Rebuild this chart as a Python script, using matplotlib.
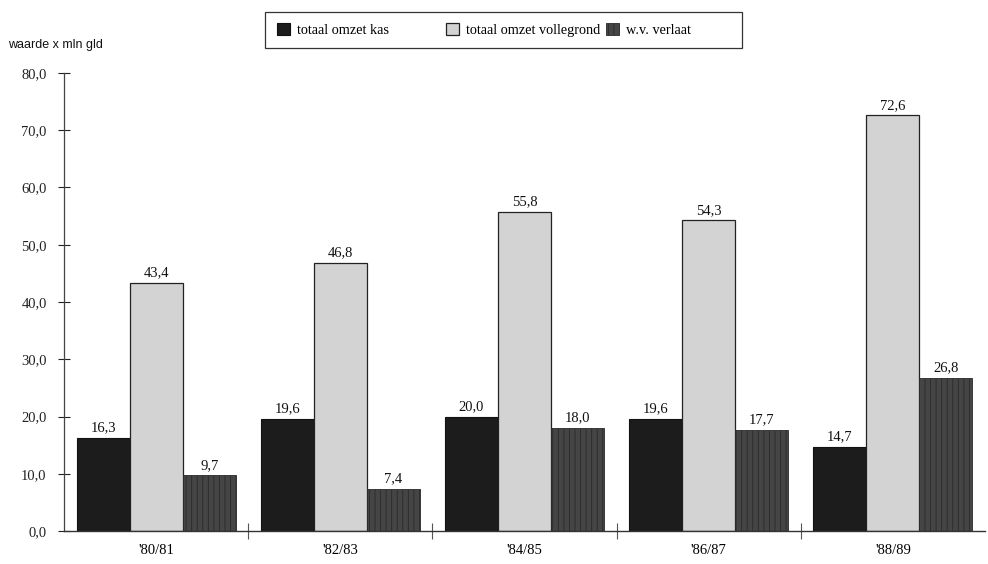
import matplotlib
matplotlib.use("Agg")
import matplotlib.pyplot as plt
from matplotlib.patches import Rectangle
import numpy as np

seasons = ["'80/81", "'82/83", "'84/85", "'86/87", "'88/89"]
kas = [16.3, 19.6, 20.0, 19.6, 14.7]
vollegrond = [43.4, 46.8, 55.8, 54.3, 72.6]
verlaat = [9.7, 7.4, 18.0, 17.7, 26.8]
series_names = ["totaal omzet kas", "totaal omzet vollegrond", "w.v. verlaat"]
yticks = [0, 10, 20, 30, 40, 50, 60, 70, 80]

plt.rcParams['font.family'] = ['Liberation Serif', 'DejaVu Serif']
plt.rcParams['hatch.color'] = '#2a2a2a'
plt.rcParams['hatch.linewidth'] = 0.6

W, H = 988, 564
fig = plt.figure(figsize=(W/100, H/100), dpi=100)
ax = fig.add_axes([64/W, 1-531/H, (985-64)/W, (531-73)/H])

x = np.arange(len(seasons))
w = 0.288
b1 = ax.bar(x - w, kas, w, color='#1c1c1c', edgecolor='#111111', linewidth=0.8)
b2 = ax.bar(x, vollegrond, w, color='#d3d3d3', edgecolor='#222222', linewidth=0.9)
b3 = ax.bar(x + w, verlaat, w, color='#454545', edgecolor='#2a2a2a', linewidth=0.6, hatch='|||')

for bars, vals in ((b1, kas), (b2, vollegrond), (b3, verlaat)):
    for r, v in zip(bars, vals):
        ax.text(r.get_x() + r.get_width()/2, v + 0.6, f"{v:.1f}".replace('.', ','),
                ha='center', va='bottom', fontsize=10.5, color='#111111')

ax.set_xlim(-0.5, len(seasons) - 0.5)
ax.set_ylim(0, 80)
ax.set_yticks(yticks)
ax.set_yticklabels([f"{t:.1f}".replace('.', ',') for t in yticks], fontsize=10.5)
ax.tick_params(axis='y', direction='inout', length=9, width=0.8, pad=8, colors='#222222')

ax.set_xticks(x)
ax.set_xticklabels(seasons, fontsize=10.5)
ax.tick_params(axis='x', length=0, pad=9)
ax.set_xticks(np.arange(len(seasons) - 1) + 0.5, minor=True)
ax.tick_params(axis='x', which='minor', direction='inout', length=12, width=0.8, color='#555555')

for s in ('top', 'right'):
    ax.spines[s].set_visible(False)
ax.spines['left'].set_color('#444444')
ax.spines['bottom'].set_color('#333333')
ax.spines['left'].set_linewidth(0.9)
ax.spines['bottom'].set_linewidth(1.0)

fig.text(8/W, 1-45/H, "waarde x mln gld", fontsize=9, family=['Liberation Sans', 'DejaVu Sans'],
         va='center', ha='left', color='#111111')

# legend box with one entry per series at fixed horizontal offsets
fig.patches.append(Rectangle((265/W, 1-48/H), (742-265)/W, 36/H, transform=fig.transFigure,
                             fill=False, edgecolor='#333333', linewidth=0.9))
entry_x = [264, 433, 593]
for handle, name, ex in zip((b1, b2, b3), series_names, entry_x):
    fig.legend([handle], [name], loc='center left', bbox_to_anchor=(ex/W, 1-30/H),
               frameon=False, fontsize=10.3, handlelength=0.9, handleheight=0.9,
               handletextpad=0.5)

fig.savefig("out.png", dpi=100)
